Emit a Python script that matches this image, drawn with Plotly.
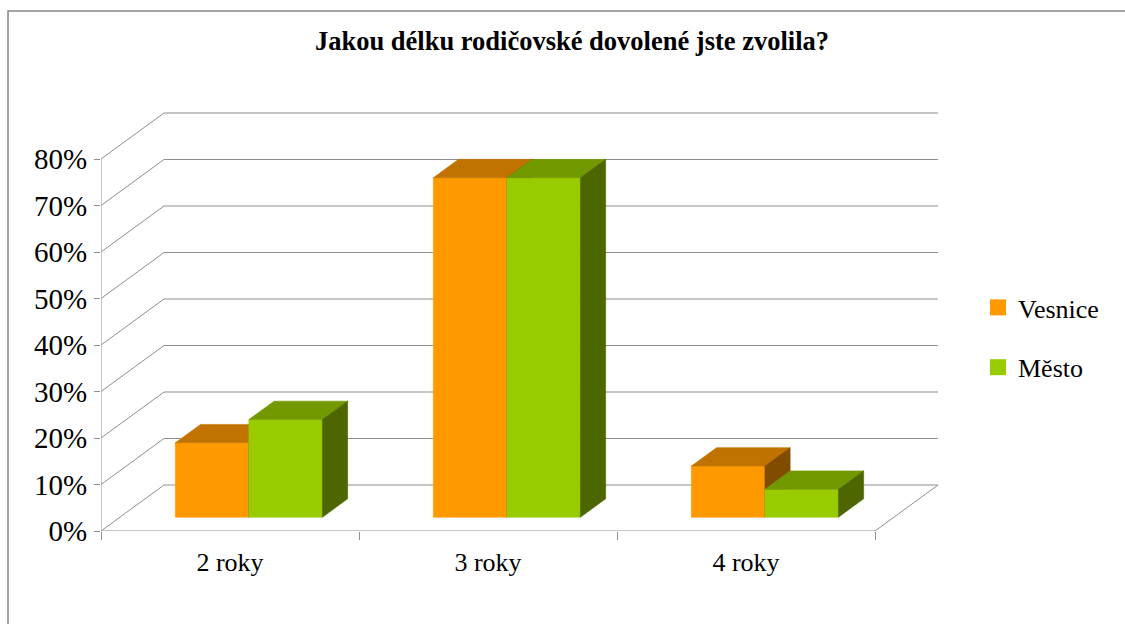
import plotly.graph_objects as go

# Survey data: chosen length of parental leave, share of respondents (%)
categories = ["2 roky", "3 roky", "4 roky"]
series_names = ["Vesnice", "Město"]
vesnice = [16, 73, 11]
mesto = [21, 73, 6]
y_ticks = [0, 10, 20, 30, 40, 50, 60, 70, 80]
y_tick_labels = [f"{v}%" for v in y_ticks]

# Figure / plot-area geometry (pixels)
W, H = 1125, 624
PX_L, PX_R = 101, 941
PX_T, PX_B = 110, 531
PX_PER_CAT = 258.0
PX_PER_PCT = 4.65
X_MAX = (PX_R - PX_L) / PX_PER_CAT
Y_MAX = (PX_B - PX_T) / PX_PER_PCT

# Oblique projection of the depth axis (data units for a full unit of depth)
DX = 63 / PX_PER_CAT
DY = 46 / PX_PER_PCT
Z0, Z1 = 0.30, 0.70          # depth slab occupied by the columns
BAR_W = 0.285                 # column width as a fraction of a category
GAP = (1 - 2 * BAR_W) / 2

GRID = "#8f8f8f"
FONT = "Liberation Serif"

face_colors = {
    "Vesnice": {"front": "#FF9900", "top": "#C07300", "side": "#804D00"},
    "Město": {"front": "#99CC00", "top": "#739900", "side": "#4D6600"},
}


def proj(x, y, z):
    return x + z * DX, y + z * DY


def poly(pts, color, name):
    xs, ys = zip(*[proj(*p) for p in pts])
    xs = list(xs) + [xs[0]]
    ys = list(ys) + [ys[0]]
    return go.Scatter(
        x=xs, y=ys, mode="lines", fill="toself", fillcolor=color,
        line=dict(color=color, width=0.6), hoverinfo="skip",
        showlegend=False, name=name,
    )


def line(pts):
    xs, ys = zip(*[proj(*p) for p in pts])
    return go.Scatter(
        x=list(xs), y=list(ys), mode="lines",
        line=dict(color=GRID, width=1), hoverinfo="skip", showlegend=False,
    )


fig = go.Figure()

# Walls and floor: left-wall diagonals, back-wall gridlines
n_cat = len(categories)
for t in y_ticks:
    fig.add_trace(line([(0, t, 0), (0, t, 1), (n_cat, t, 1)]))
# floor front edge and right edge, front value axis
fig.add_trace(line([(0, 0, 0), (n_cat, 0, 0), (n_cat, 0, 1)]))
fig.add_trace(line([(0, 0, 0), (0, y_ticks[-1], 0)]))

# 3-D columns: each drawn as front, top and right-side faces
for s_idx, (name, values) in enumerate(zip(series_names, [vesnice, mesto])):
    cols = face_colors[name]
    for i, v in enumerate(values):
        a = i + GAP + s_idx * BAR_W
        b = a + BAR_W
        fig.add_trace(poly([(a, 0, Z0), (b, 0, Z0), (b, v, Z0), (a, v, Z0)], cols["front"], name))
        fig.add_trace(poly([(a, v, Z0), (b, v, Z0), (b, v, Z1), (a, v, Z1)], cols["top"], name))
        fig.add_trace(poly([(b, 0, Z0), (b, 0, Z1), (b, v, Z1), (b, v, Z0)], cols["side"], name))

# Legend entries
for name in series_names:
    fig.add_trace(go.Scatter(
        x=[None], y=[None], mode="markers", name=name, legendgroup=name,
        marker=dict(symbol="square", size=16, color=face_colors[name]["front"]),
    ))


def paper_x(px):
    return (px - PX_L) / (PX_R - PX_L)


def paper_y(py):
    return (PX_B - py) / (PX_B - PX_T)


# Outer chart border
fig.add_shape(
    type="rect", xref="paper", yref="paper",
    x0=paper_x(8), x1=paper_x(W + 20), y0=paper_y(H + 20), y1=paper_y(11),
    line=dict(color="#858585", width=1.5), layer="below",
)

fig.update_layout(
    width=W, height=H,
    margin=dict(l=PX_L, r=W - PX_R, t=PX_T, b=H - PX_B, pad=0),
    paper_bgcolor="white", plot_bgcolor="rgba(0,0,0,0)",
    font=dict(family=FONT, color="black"),
    title=dict(
        text="<b>Jakou délku rodičovské dovolené jste zvolila?</b>",
        x=572 / W, y=1 - 41 / H, xref="container", yref="container",
        xanchor="center", yanchor="middle",
        font=dict(family=FONT, size=26.5, color="black"),
    ),
    xaxis=dict(
        range=[0, X_MAX], showgrid=False, zeroline=False, showline=False,
        tickvals=[i + 0.5 for i in range(n_cat)], ticktext=categories,
        ticks="", ticklabelstandoff=13,
        tickfont=dict(family=FONT, size=26, color="black"),
        minor=dict(tickvals=list(range(n_cat + 1)), ticks="outside",
                   ticklen=8, tickcolor=GRID, tickwidth=1),
        fixedrange=True,
    ),
    yaxis=dict(
        range=[0, Y_MAX], showgrid=False, zeroline=False, showline=False,
        tickvals=y_ticks, ticktext=y_tick_labels,
        ticks="outside", ticklen=6, tickcolor=GRID, tickwidth=1,
        ticklabelstandoff=1,
        tickfont=dict(family=FONT, size=29, color="black"),
        fixedrange=True,
    ),
    legend=dict(
        x=paper_x(978), y=paper_y(284), xanchor="left", yanchor="top",
        font=dict(family=FONT, size=26, color="black"),
        tracegroupgap=23, bgcolor="rgba(0,0,0,0)", itemclick=False,
    ),
    showlegend=True,
)

fig.write_html("out.html")
